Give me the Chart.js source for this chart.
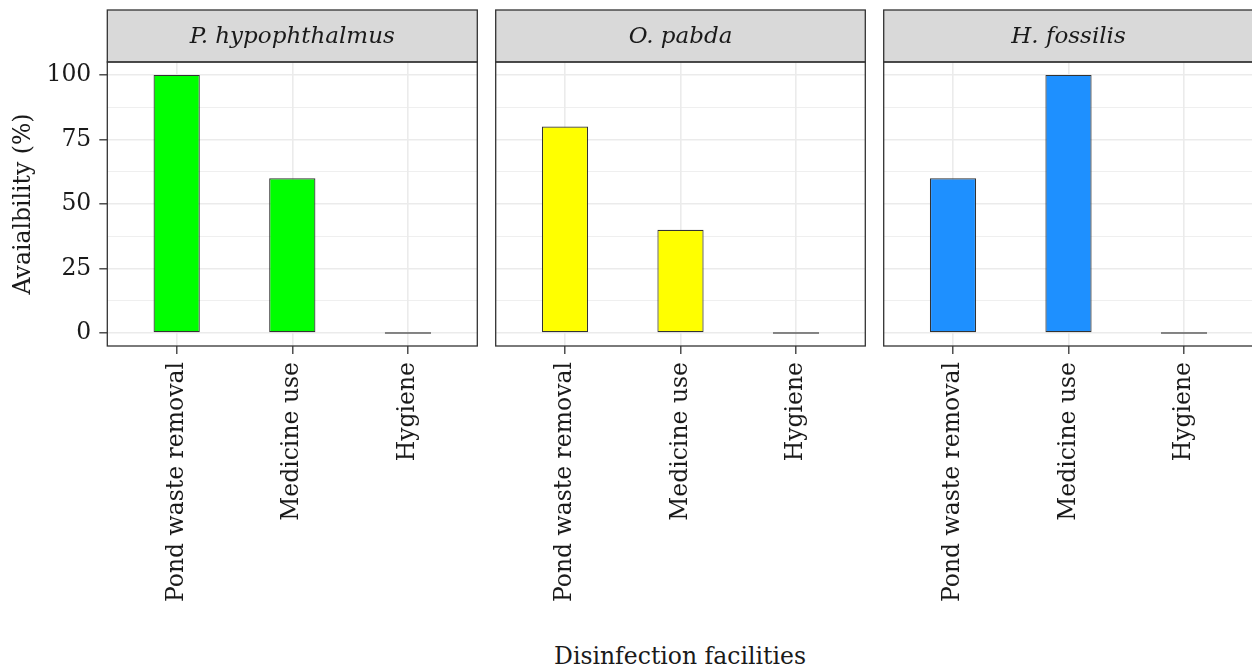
<!DOCTYPE html>
<html>
<head>
<meta charset="utf-8">
<script src="https://cdn.jsdelivr.net/npm/chart.js@4"></script>
<style>
  body { margin: 0; background: #fff; overflow: hidden; width: 1252px; height: 668px; position: relative; }
  canvas { position: absolute; top: 0; }
  #xTitle { position: absolute; left: 430px; width: 500px; top: 642px; line-height: 28px;
            text-align: center; font: 23.5px "DejaVu Serif"; color: #1a1a1a; }
</style>
</head>
<body>
<canvas id="c1" width="480" height="620" style="left:0px"></canvas>
<canvas id="c2" width="380" height="620" style="left:490px"></canvas>
<canvas id="c3" width="380" height="620" style="left:878px"></canvas>
<div id="xTitle">Disinfection facilities</div>
<script>
// categories and values
const facilities = ['Pond waste removal', 'Medicine use', 'Hygiene'];
const species = ['P. hypophthalmus', 'O. pabda', 'H. fossilis'];
const pHypophthalmus = [100, 60, 0];
const oPabda = [80, 40, 0];
const hFossilis = [60, 100, 0];
const yTicks = [0, 25, 50, 75, 100];
const yMinorTicks = [12.5, 37.5, 62.5, 87.5];

const panelValues = [pHypophthalmus, oPabda, hFossilis];
const panelColors = ['#00ff00', '#ffff00', '#1e90ff'];
const FONT = '"DejaVu Serif"';
const INK = '#1a1a1a';

// strip header + panel frame, ggplot theme_bw style
const stripPlugin = {
    id: 'strip',
    afterDraw(chart, args, opts) {
        const a = chart.chartArea;
        const ctx = chart.ctx;
        ctx.save();
        ctx.fillStyle = '#d9d9d9';
        ctx.fillRect(a.left, 10, a.right - a.left, a.top - 10);
        ctx.strokeStyle = '#333333';
        ctx.lineWidth = 1.3;
        ctx.strokeRect(a.left, 10, a.right - a.left, a.top - 10);
        ctx.strokeRect(a.left, a.top, a.right - a.left, a.bottom - a.top);
        ctx.fillStyle = INK;
        ctx.font = 'italic 23px ' + FONT;
        ctx.textAlign = 'center';
        ctx.textBaseline = 'middle';
        ctx.fillText(opts.label, (a.left + a.right) / 2, (10 + a.top) / 2 + 1);
        ctx.restore();
    }
};

function makePanel(id, idx, first, padLeft, padRight) {
    const values = panelValues[idx];
    return new Chart(document.getElementById(id), {
        type: 'bar',
        data: {
            datasets: [{
                data: values.map((v, i) => ({ x: i, y: v })),
                backgroundColor: panelColors[idx],
                borderColor: '#333333',
                borderWidth: 1.2,
                borderSkipped: false,
                minBarLength: 1.5,
                barPercentage: 0.4,
                categoryPercentage: 1
            }]
        },
        options: {
            responsive: false,
            animation: false,
            devicePixelRatio: 1,
            layout: { padding: { top: 62, left: padLeft, right: padRight, bottom: 0 } },
            plugins: {
                legend: { display: false },
                tooltip: { enabled: false },
                strip: { label: species[idx] }
            },
            scales: {
                x: {
                    type: 'linear',
                    min: -0.6,
                    max: 2.6,
                    offset: false,
                    afterBuildTicks: s => { s.ticks = facilities.map((f, i) => ({ value: i })); },
                    afterFit: s => { s.height = 620 - 346; },
                    border: { display: false },
                    grid: {
                        offset: false,
                        color: '#ebebeb',
                        lineWidth: 1.6,
                        tickColor: '#333333',
                        tickLength: 8,
                        tickWidth: 1.3
                    },
                    ticks: {
                        minRotation: 90,
                        maxRotation: 90,
                        padding: 8,
                        color: INK,
                        font: { family: FONT, size: 23.5 },
                        callback: v => facilities[v]
                    }
                },
                y: {
                    min: -5,
                    max: 105,
                    afterBuildTicks: s => {
                        s.ticks = yTicks.concat(yMinorTicks).sort((a, b) => a - b).map(v => ({ value: v }));
                    },
                    afterFit: s => { s.width = first ? 107.3 : 0; },
                    border: { display: false },
                    grid: {
                        color: '#ebebeb',
                        lineWidth: c => yTicks.includes(c.tick.value) ? 1.6 : 0.8,
                        drawTicks: first,
                        tickColor: c => yTicks.includes(c.tick.value) ? '#333333' : 'rgba(0,0,0,0)',
                        tickLength: 8,
                        tickWidth: 1.3
                    },
                    ticks: {
                        display: first,
                        padding: 8,
                        color: INK,
                        font: { family: FONT, size: 23.5 },
                        callback: v => yTicks.includes(v) ? String(v) : ''
                    },
                    title: {
                        display: first,
                        text: 'Avaialbility (%)',
                        color: INK,
                        font: { family: FONT, size: 23.5 },
                        padding: { top: 10, bottom: 0 }
                    }
                }
            }
        },
        plugins: [stripPlugin]
    });
}

makePanel('c1', 0, true, 0, 2.7);
makePanel('c2', 1, false, 5.7, 4.7);
makePanel('c3', 2, false, 5.7, 4.7);
</script>
</body>
</html>
